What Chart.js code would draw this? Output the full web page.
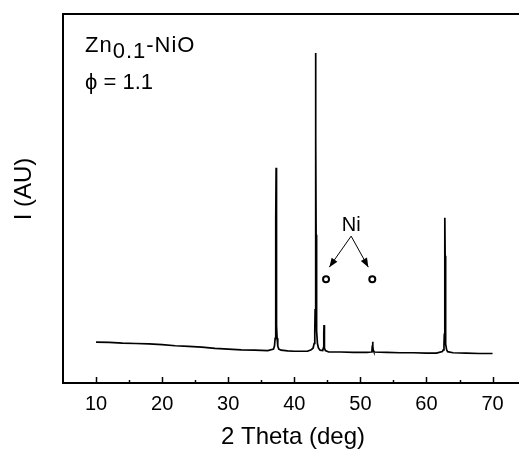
<!DOCTYPE html>
<html>
<head>
<meta charset="utf-8">
<script src="https://cdn.jsdelivr.net/npm/chart.js@4.4.0/dist/chart.umd.min.js"></script>
<style>
  body { margin: 0; background: #fff; }
  canvas { display: block; }
</style>
</head>
<body>
<canvas id="xrd" width="519" height="450"></canvas>
<script>
// XRD pattern, 2 theta (deg) vs intensity (arbitrary units, 0..1000)
const theta = [
  10, 12, 14, 16, 18, 20, 22, 24, 26, 28, 30, 32, 34, 36,
  36.85, 37.0, 37.1, 37.15, 37.2, 37.225, 37.25, 37.275, 37.3, 37.35, 37.4, 37.5, 37.65,
  38, 39, 40, 41, 42, 42.55, 42.85, 43.0, 43.1, 43.15, 43.2, 43.225, 43.25, 43.275, 43.3, 43.35, 43.4, 43.5, 43.65, 43.9,
  44.3, 44.4, 44.45, 44.475, 44.5, 44.525, 44.55, 44.6, 44.7, 45.2,
  47, 49, 51, 51.65, 51.75, 51.8, 51.85, 51.9, 51.95, 52.05,
  54, 56, 58, 60, 61.5, 62.4, 62.55, 62.65, 62.7, 62.75, 62.775, 62.8, 62.825, 62.85, 62.9, 62.95, 63.05, 63.2,
  64, 66, 68, 70
];
const intensity = [
  111, 110, 108, 107, 106, 104, 101, 99, 97, 94, 92, 90, 89, 88,
  92, 100, 121, 156, 281, 444, 583, 444, 281, 156, 121, 100, 92,
  89, 87, 86, 86, 86, 90, 95, 107, 141, 198, 402, 667, 894, 667, 402, 198, 141, 107, 95, 89,
  88, 95, 110, 135, 157, 135, 110, 95, 88, 84,
  84, 83, 83, 84, 88, 100, 112, 100, 88, 84,
  83, 82, 82, 81, 81, 85, 90, 105, 132, 224, 345, 448, 345, 224, 132, 105, 90, 85,
  82, 81, 80, 80
];

// Ni reflections marked with open circles
const niTheta = [44.8, 51.8];
const niMark = [281, 281];
const niLabel = { text: 'Ni', x: 48.6, y: 428 };
const niArrowFrom = { x: 48.6, y: 398 };

const xTicks = [10, 20, 30, 40, 50, 60, 70];
const xMinorTicks = [15, 25, 35, 45, 55, 65];

const font = '"Liberation Sans", Arial, sans-serif';

const overlay = {
  id: 'overlay',
  afterDraw(chart) {
    const { ctx, chartArea: a, scales: { x, y } } = chart;
    ctx.save();
    ctx.strokeStyle = '#000';
    ctx.fillStyle = '#000';

    // top frame line
    ctx.lineWidth = 2;
    ctx.beginPath();
    ctx.moveTo(a.left - 1, a.top);
    ctx.lineTo(a.right, a.top);
    ctx.stroke();

    // inward ticks
    ctx.lineWidth = 1.5;
    xTicks.concat(xMinorTicks).forEach(v => {
      const px = Math.round(x.getPixelForValue(v)) + 0.5;
      const len = xTicks.includes(v) ? 6 : 3;
      ctx.beginPath();
      ctx.moveTo(px, a.bottom);
      ctx.lineTo(px, a.bottom - len);
      ctx.stroke();
    });

    // axis titles
    ctx.font = '24px ' + font;
    ctx.textAlign = 'center';
    ctx.textBaseline = 'middle';
    ctx.fillText('2 Theta (deg)', 293, 437);
    ctx.save();
    ctx.translate(24, 189);
    ctx.rotate(-Math.PI / 2);
    ctx.fillText('I (AU)', 0, 0);
    ctx.restore();

    // sample label
    ctx.font = '22px ' + font;
    ctx.textAlign = 'left';
    ctx.textBaseline = 'alphabetic';
    ctx.letterSpacing = '1px';
    let tx = 85;
    ctx.fillText('Zn', tx, 52);
    tx += ctx.measureText('Zn').width;
    ctx.fillText('0.1', tx, 58);
    tx += ctx.measureText('0.1').width;
    ctx.fillText('-NiO', tx, 52);
    ctx.letterSpacing = '0px';
    ctx.fillText('\u03d5 = 1.1', 85, 89);

    // Ni label and arrows
    ctx.font = '20px ' + font;
    ctx.textAlign = 'center';
    ctx.textBaseline = 'middle';
    ctx.fillText(niLabel.text, x.getPixelForValue(niLabel.x), y.getPixelForValue(niLabel.y));
    const fx = x.getPixelForValue(niArrowFrom.x), fy = y.getPixelForValue(niArrowFrom.y);
    ctx.lineWidth = 1;
    niTheta.forEach((t, i) => {
      const tipX = x.getPixelForValue(t + (i === 0 ? 0.5 : -0.6));
      const tipY = y.getPixelForValue(niMark[i] + 33);
      const ang = Math.atan2(tipY - fy, tipX - fx);
      ctx.beginPath();
      ctx.moveTo(fx, fy);
      ctx.lineTo(tipX, tipY);
      ctx.stroke();
      const hl = 9, hw = 3.5;
      ctx.beginPath();
      ctx.moveTo(tipX, tipY);
      ctx.lineTo(tipX - hl * Math.cos(ang) + hw * Math.sin(ang), tipY - hl * Math.sin(ang) - hw * Math.cos(ang));
      ctx.lineTo(tipX - hl * Math.cos(ang) - hw * Math.sin(ang), tipY - hl * Math.sin(ang) + hw * Math.cos(ang));
      ctx.closePath();
      ctx.fill();
    });
    ctx.restore();
  }
};

new Chart(document.getElementById('xrd'), {
  type: 'scatter',
  data: {
    datasets: [
      {
        data: theta.map((t, i) => ({ x: t, y: intensity[i] })),
        showLine: true,
        borderColor: '#000',
        borderWidth: 1.7,
        pointRadius: 0,
        pointHoverRadius: 0,
        tension: 0
      },
      {
        data: niTheta.map((t, i) => ({ x: t, y: niMark[i] })),
        showLine: false,
        pointRadius: 3,
        pointBorderWidth: 2,
        pointBorderColor: '#000',
        pointBackgroundColor: '#fff'
      }
    ]
  },
  options: {
    responsive: false,
    animation: false,
    layout: { autoPadding: false, padding: { top: 14, right: 0, left: 0, bottom: 0 } },
    plugins: { legend: { display: false }, tooltip: { enabled: false } },
    scales: {
      x: {
        type: 'linear',
        min: 5,
        max: 74,
        afterBuildTicks: s => { s.ticks = xTicks.map(v => ({ value: v })); },
        afterFit: s => { s.height = 67; s.paddingRight = 0; s.paddingLeft = 0; },
        grid: { display: true, drawOnChartArea: false, drawTicks: false },
        border: { display: true, color: '#000', width: 2 },
        ticks: {
          padding: 9,
          color: '#000',
          font: { family: font, size: 20 },
          autoSkip: false,
          maxRotation: 0,
          callback: v => String(v)
        }
      },
      y: {
        min: 0,
        max: 1000,
        afterFit: s => { s.width = 63; },
        grid: { display: true, drawOnChartArea: false, drawTicks: false },
        border: { display: true, color: '#000', width: 2 },
        ticks: { display: false }
      }
    }
  },
  plugins: [overlay]
});
</script>
</body>
</html>
